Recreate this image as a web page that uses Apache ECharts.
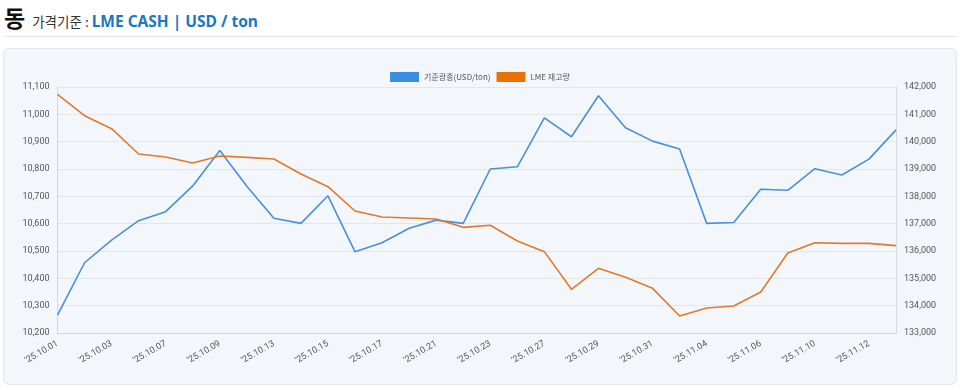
<!DOCTYPE html>
<html>
<head>
<meta charset="utf-8">
<script src="https://cdn.jsdelivr.net/npm/echarts@6/dist/echarts.min.js"></script>
<style>
  html, body { margin:0; padding:0; background:#fff; width:960px; height:390px; overflow:hidden; font-family:"Noto Sans CJK KR","Noto Sans",sans-serif; }
  #hdr { position:absolute; left:4px; top:0px; height:32px; white-space:nowrap; }
  #hdr .big { font-size:23px; font-weight:700; color:#111; vertical-align:baseline; }
  #hdr .sub { font-size:13.5px; color:#333; margin-left:7px; }
  #hdr .blue { font-size:15.5px; font-weight:700; color:#1a78c2; font-family:"Noto Sans","Noto Sans CJK KR",sans-serif; }
  #rule { position:absolute; left:5px; right:3px; top:36px; height:1px; background:#dfe2e6; }
  #panel { position:absolute; left:3px; top:48px; width:952px; height:335px; border:1px solid #e3e6ea; border-radius:6px; background:#f3f6fa; }
  #chart { position:absolute; left:3px; top:48px; width:954px; height:337px; }
</style>
</head>
<body>
<div id="hdr"><span class="big">동</span><span class="sub">가격기준 : </span><span class="blue">LME CASH | USD / ton</span></div>
<div id="rule"></div>
<div id="panel"></div>
<div id="chart"></div>
<script>
const categories = ["'25.10.01","'25.10.02","'25.10.03","'25.10.06","'25.10.07","'25.10.08","'25.10.09","'25.10.10",
  "'25.10.13","'25.10.14","'25.10.15","'25.10.16","'25.10.17","'25.10.20","'25.10.21","'25.10.22",
  "'25.10.23","'25.10.24","'25.10.27","'25.10.28","'25.10.29","'25.10.30","'25.10.31","'25.11.03",
  "'25.11.04","'25.11.05","'25.11.06","'25.11.07","'25.11.10","'25.11.11","'25.11.12","'25.11.13"];
const priceSeries = [10265,10457,10540,10611,10644,10738,10868,10737,
  10620,10601,10702,10497,10530,10583,10613,10601,
  10800,10808,10987,10918,11068,10951,10902,10873,
  10601,10604,10726,10722,10801,10778,10836,10943];
const stockSeries = [141733,140950,140475,139549,139439,139220,139476,139427,
  139366,138817,138353,137463,137244,137207,137171,136866,
  136940,136366,135976,134599,135366,135037,134634,133622,
  133915,133988,134500,135927,136304,136280,136280,136195];
const seriesNames = ["기준광종(USD/ton)","LME 재고량"];
const leftAxis = { min:10200, max:11100, interval:100 };
const rightAxis = { min:133000, max:142000, interval:1000 };

const chart = echarts.init(document.getElementById('chart'), null, {renderer:'canvas'});
const fmt = v => v.toLocaleString('en-US');
const labelStyle = { color:'#555', fontSize:9, fontFamily:'Roboto,"Noto Sans",sans-serif' };
chart.setOption({
  animation:false,
  color:['#3a8ee6','#e8710a'],
  legend:{
    top:19, left:'center',
    itemWidth:29, itemHeight:10, itemGap:6,
    textStyle:{ color:'#555', fontSize:8, fontFamily:'"Noto Sans CJK KR",sans-serif' },
    data:seriesNames.map(n=>({name:n, icon:'rect'}))
  },
  grid:{ left:54.5, right:61, top:39, bottom:52, containLabel:false },
  xAxis:{
    type:'category', data:categories, boundaryGap:false,
    axisLine:{ lineStyle:{ color:'#d5d9de' } },
    axisTick:{ show:false },
    axisLabel:{ ...labelStyle, rotate:30, interval:1, margin:10 },
    splitLine:{ show:false }
  },
  yAxis:[
    { type:'value', position:'left', ...leftAxis,
      axisLine:{ show:true, lineStyle:{ color:'#d5d9de' } }, axisTick:{ show:false },
      axisLabel:{ ...labelStyle, formatter:fmt, margin:8 },
      splitLine:{ lineStyle:{ color:'#e3e7ec' } } },
    { type:'value', position:'right', ...rightAxis,
      axisLine:{ show:true, lineStyle:{ color:'#d5d9de' } }, axisTick:{ show:false },
      axisLabel:{ ...labelStyle, formatter:fmt, margin:8 },
      splitLine:{ show:false } }
  ],
  series:[
    { name:seriesNames[0], type:'line', yAxisIndex:0, data:priceSeries, showSymbol:false, symbol:'none',
      lineStyle:{ width:1.6, color:'#4a90d9' }, itemStyle:{ color:'#3a8ee6' } },
    { name:seriesNames[1], type:'line', yAxisIndex:1, data:stockSeries, showSymbol:false, symbol:'none',
      lineStyle:{ width:1.6, color:'#e27a2c' }, itemStyle:{ color:'#e8710a' } }
  ]
});
</script>
</body>
</html>
